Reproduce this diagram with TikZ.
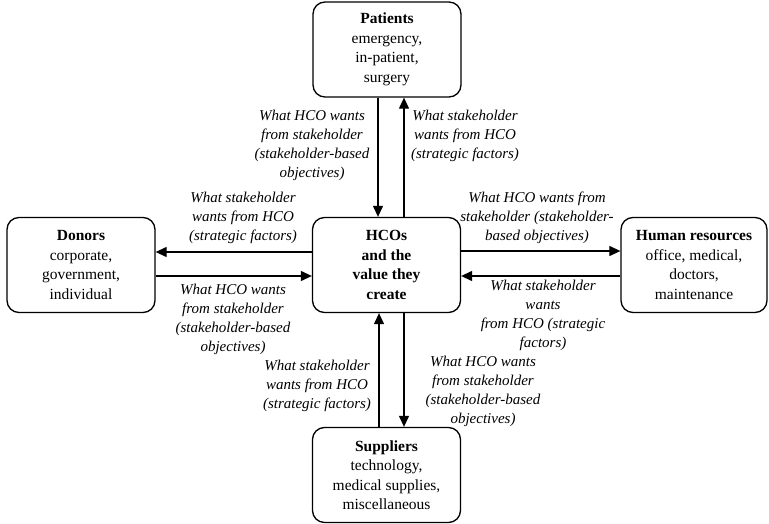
\documentclass[tikz,border=0pt]{standalone}
\usepackage{fontspec}
\setmainfont{Liberation Serif}
\usetikzlibrary{arrows.meta}
\begin{document}
\begin{tikzpicture}[x=1pt,y=-1pt,
  box/.style={draw, line width=1.3pt, rounded corners=12pt,
    minimum width=148pt, minimum height=95pt, align=center, inner sep=0pt,
    font=\fontsize{15.5}{19.5}\selectfont},
  note/.style={align=center, inner sep=0pt,
    font=\fontsize{15}{19}\selectfont\itshape},
  arr/.style={line width=1.2pt, -{Triangle[length=11pt,width=10pt]}}]
\useasboundingbox (0,0) rectangle (769,524);

% stakeholder boxes around the central organisation
\node[box] (pat) at (387,49.5) {\textbf{Patients}\\emergency,\\in-patient,\\surgery};
\node[box] (don) at (81,265) {\textbf{Donors}\\corporate,\\government,\\individual};
\node[box] (hco) at (386.5,265) {\textbf{HCOs}\\\textbf{and the}\\\textbf{value they}\\\textbf{create}};
\node[box, minimum width=146pt] (hr) at (694,265) {\textbf{Human resources}\\office, medical,\\doctors,\\maintenance};
\node[box] (sup) at (386.5,475) {\textbf{Suppliers}\\technology,\\medical supplies,\\miscellaneous};

% lanes for the paired arrows
\coordinate (ta) at (378,0);
\coordinate (tb) at (404,0);
\coordinate (ba) at (379,0);
\coordinate (bb) at (404,0);
\coordinate (la) at (0,252);
\coordinate (lb) at (0,276);
\coordinate (ra) at (0,251);
\coordinate (rb) at (0,276);

\draw[arr] (pat.south -| ta) -- (hco.north -| ta);
\draw[arr] (hco.north -| tb) -- (pat.south -| tb);
\draw[arr] (sup.north -| ba) -- (hco.south -| ba);
\draw[arr] (hco.south -| bb) -- (sup.north -| bb);
\draw[arr] (hco.west |- la) -- (don.east |- la);
\draw[arr] (don.east |- lb) -- (hco.west |- lb);
\draw[arr] (hco.east |- ra) -- (hr.west |- ra);
\draw[arr] (hr.west |- rb) -- (hco.east |- rb);

% arrow labels
\node[note] (ntl) at (312,145.5) {What HCO wants\\from stakeholder\\(stakeholder-based\\objectives)};
\node[note] (ntr) at (465,136) {What stakeholder\\wants from HCO\\(strategic factors)};
\node[note] (nlu) at (243,217.5) {What stakeholder\\wants from HCO\\(strategic factors)};
\node[note] (nll) at (233,319) {What HCO wants\\from stakeholder\\(stakeholder-based\\objectives)};
\node[note] (nru) at (537,217.5) {What HCO wants from\\stakeholder (stakeholder-\\based objectives)};
\node[note] (nrl) at (543,315.5) {What stakeholder\\wants\\from HCO (strategic\\factors)};
\node[note] (nbl) at (317,386) {What stakeholder\\wants from HCO\\(strategic factors)};
\node[note] (nbr) at (483,391) {What HCO wants\\from stakeholder\\(stakeholder-based\\objectives)};
\end{tikzpicture}
\end{document}
